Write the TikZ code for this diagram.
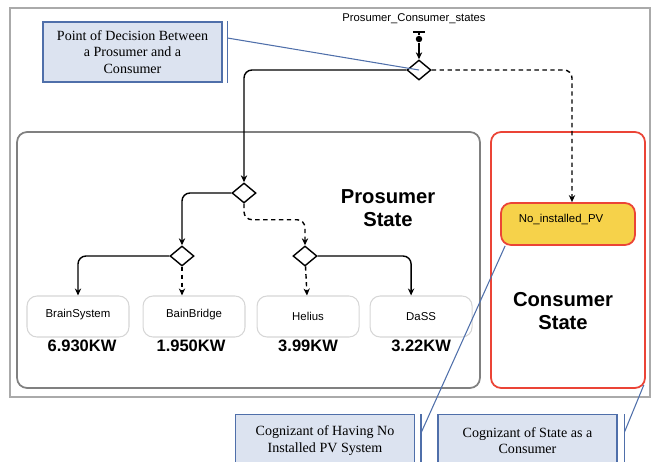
\documentclass[tikz,border=0pt]{standalone}
\usepackage{fontspec}
\setmainfont{Liberation Sans}
\newfontfamily\notefont{Liberation Serif}
\usepackage{tikz}
\usetikzlibrary{shapes.geometric, arrows, arrows.meta, positioning}
\definecolor{framegray}{HTML}{AAAAAA}
\definecolor{groupgray}{HTML}{808080}
\definecolor{boxgray}{HTML}{D6D6D6}
\definecolor{statered}{HTML}{EB4436}
\definecolor{pvyellow}{HTML}{F6D24A}
\definecolor{notefill}{HTML}{DCE3F0}
\definecolor{noteblue}{HTML}{4F6FAA}
\tikzstyle{decision} = [diamond, minimum width=0.48cm, minimum height=0.4cm, inner sep=0pt, draw=black, line width=0.8pt, fill=white]
\tikzstyle{system} = [rectangle, rounded corners=0.2cm, minimum width=2.04cm, minimum height=0.82cm, draw=boxgray, line width=0.6pt, font=\fontsize{6.5}{8}\selectfont]
\tikzstyle{power} = [font=\fontsize{9.4}{11}\selectfont\bfseries, inner sep=1pt]
\tikzstyle{group} = [rectangle, rounded corners=0.2cm, draw=groupgray, line width=1pt]
\tikzstyle{consumer} = [rectangle, rounded corners=0.2cm, draw=statered, line width=1pt]
\tikzstyle{pv} = [rectangle, rounded corners=0.2cm, draw=statered, fill=pvyellow, line width=1pt, minimum width=2.68cm, minimum height=0.84cm]
\tikzstyle{statename} = [font=\fontsize{11.5}{13}\selectfont\bfseries, align=center]
\tikzstyle{note} = [rectangle, draw=noteblue, fill=notefill, line width=0.6pt, minimum width=3.58cm, align=center, font=\notefont\fontsize{8}{9.4}\selectfont]
\tikzstyle{arrow} = [line width=0.8pt, ->, >={Stealth[length=4pt, width=3.6pt]}, rounded corners=0.16cm]
\tikzstyle{dasharrow} = [arrow, dash pattern=on 2.5pt off 2pt]
\tikzstyle{line} = [line width=0.8pt]
\tikzstyle{leader} = [draw=noteblue, line width=0.6pt]

\begin{document}
\begin{tikzpicture}[x=0.02cm, y=-0.02cm]

\useasboundingbox (0,0) rectangle (654,461);
\clip (0,0) rectangle (654,461);
\draw [framegray, line width=0.6pt] (10,8) rectangle (650,397);

\node (pbox) [group, minimum width=9.26cm, minimum height=5.12cm] at (248.5,260) {};
\node (cbox) [consumer, minimum width=3.08cm, minimum height=5.12cm] at (568,260) {};
\node (pstate) [statename] at (388,208) {Prosumer\\State};
\node (cstate) [statename] at (563,311) {Consumer\\State};

\node (title) [font=\fontsize{6.4}{8}\selectfont] at (414,19) {Prosumer\_Consumer\_states};
\node (bar) [rectangle, fill=black, minimum width=0.24cm, minimum height=0.03cm, inner sep=0pt] at (419,32) {};
\node (init) [circle, fill=black, inner sep=1.3pt] at (419,39) {};

\node (d1) [decision] at (419,70) {};
\node (d2) [decision] at (244,193) {};
\node (d3) [decision] at (182,256) {};
\node (d4) [decision] at (305,256) {};

\node (brain) [system] at (78,316.5) {\raisebox{0.14cm}{BrainSystem}\hspace{0.32cm}};
\node (bain) [system, right=0.26cm of brain] {\raisebox{0.14cm}{BainBridge}\hspace{0.12cm}};
\node (helius) [system, right=0.22cm of bain] {\raisebox{-0.06cm}{Helius}};
\node (dass) [system, right=0.2cm of helius] {\raisebox{-0.06cm}{DaSS}};

\node (kw1) [power, below=0pt of brain, xshift=0.08cm] {6.930KW};
\node (kw2) [power, below=0pt of bain, xshift=-0.06cm] {1.950KW};
\node (kw3) [power, below=0pt of helius] {3.99KW};
\node (kw4) [power, below=0pt of dass] {3.22KW};

\node (pv) [pv] at (568,224) {};
\node (pvlabel) [anchor=west, font=\fontsize{6.5}{8}\selectfont] at ([xshift=0.25cm, yshift=0.1cm]pv.west) {No\_installed\_PV};

\draw [line] (bar) -- (init);
\draw [arrow] (init) -- (d1);
\draw [arrow] (d1) -| (d2);
\draw [dasharrow] (d1) -| ([xshift=0.08cm]pv.north);
\draw [arrow] (d2) -| (d3);
\draw [dasharrow] (d2.south) -- ++(0,16) -| (d4.north);
\draw [arrow] (d3) -| (brain);
\draw [dasharrow] (d3) -- (d3 |- bain.north);
\draw [dasharrow] (d4) -- (helius);
\draw [arrow] (d4) -| ([xshift=-0.2cm]dass.north);

\node (note1) [note, minimum height=1.2cm] at (132.5,52) {Point of Decision Between\\a Prosumer and a\\Consumer};
\node (note2) [note, minimum height=1.04cm, anchor=north] at (325,414) {Cognizant of Having No\\Installed PV System};
\node (note3) [note, minimum height=1.04cm, anchor=north] at (527.5,414) {Cognizant of State as a\\Consumer};

\draw [leader] ([xshift=0.1cm]note1.north east) -- ([xshift=0.1cm]note1.south east);
\draw [leader] ([xshift=0.1cm, yshift=0.28cm]note1.east) -- (d1.center);
\draw [leader] ([xshift=0.12cm]note2.north east) -- ([xshift=0.12cm]note2.south east);
\draw [leader] ([xshift=0.12cm, yshift=-0.38cm]note2.north east) -- ([xshift=0.1cm]pv.south west);
\draw [leader] ([xshift=0.14cm]note3.north east) -- ([xshift=0.14cm]note3.south east);
\draw [leader] ([xshift=0.14cm, yshift=-0.36cm]note3.north east) -- ([xshift=-0.04cm, yshift=0.08cm]cbox.south east);

\end{tikzpicture}
\end{document}
